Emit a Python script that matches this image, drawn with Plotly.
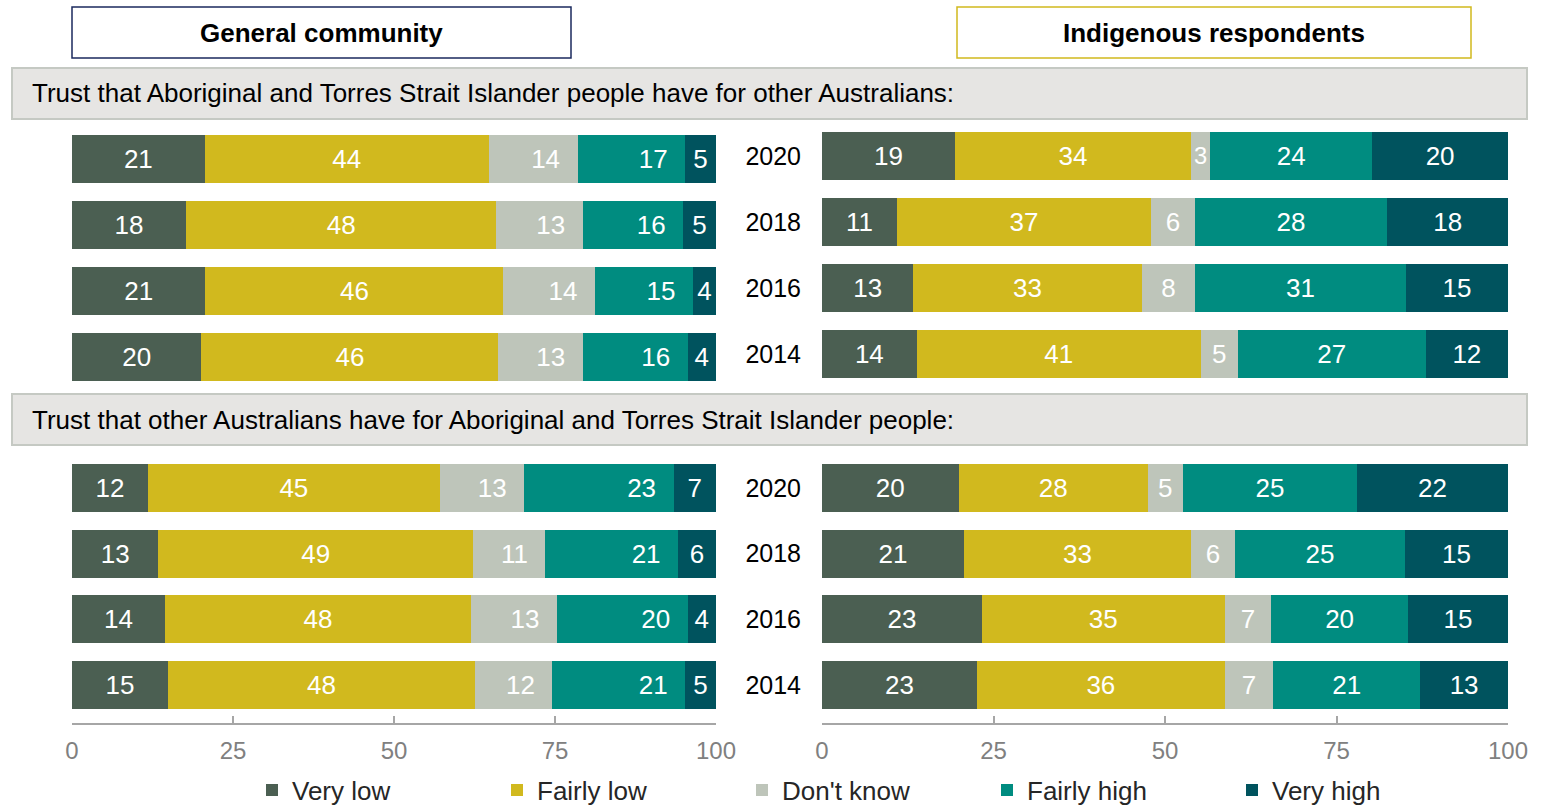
import plotly.graph_objects as go

W, H = 1542, 805

years = ['2020', '2018', '2016', '2014']
categories = ['Very low', 'Fairly low', "Don't know", 'Fairly high', 'Very high']
colors = ['#4B5F52', '#D1B91E', '#BEC5BA', '#008C80', '#00535E']

# values per row (2020, 2018, 2016, 2014), one list per category
gen_others = [
    [20.6, 17.7, 20.7, 20.1],
    [44.1, 48.2, 46.3, 46.1],
    [13.8, 13.4, 14.2, 13.1],
    [16.7, 15.6, 15.2, 16.3],
    [4.8, 5.1, 3.6, 4.4],
]
ind_others = [
    [19.4, 10.9, 13.3, 13.8],
    [34.4, 37.1, 33.3, 41.4],
    [2.8, 6.3, 7.8, 5.4],
    [23.6, 28.1, 30.7, 27.4],
    [19.8, 17.6, 14.9, 12.0],
]
gen_indig = [
    [11.8, 13.4, 14.4, 14.9],
    [45.3, 48.9, 47.6, 47.7],
    [13.1, 11.2, 13.3, 12.0],
    [23.2, 20.6, 20.3, 20.6],
    [6.6, 5.9, 4.4, 4.8],
]
ind_indig = [
    [19.9, 20.7, 23.3, 22.6],
    [27.6, 33.1, 35.4, 36.1],
    [5.1, 6.4, 6.8, 7.1],
    [25.4, 24.8, 19.9, 21.4],
    [22.0, 15.0, 14.6, 12.8],
]

x_ticks = [0, 25, 50, 75, 100]

FONT = 'Arial, Liberation Sans, sans-serif'


def px_x(p):
    return p / W


def px_y(p):
    return 1 - p / H


fig = go.Figure()

panels = [
    (gen_others, 'x', 'y', True, False),
    (ind_others, 'x2', 'y2', False, True),
    (gen_indig, 'x3', 'y3', False, False),
    (ind_indig, 'x4', 'y4', False, True),
]

for data, xa, ya, legend, right in panels:
    for i, cat in enumerate(categories):
        anchor = 'middle'
        tmpl = '%{x:.0f}'
        if not right and i in (2, 3):
            anchor = 'end'
            tmpl = '%{x:.0f}\u00a0\u00a0'
        fig.add_trace(go.Bar(
            y=years, x=data[i], name=cat, orientation='h',
            marker=dict(color=colors[i], line=dict(width=0)),
            xaxis=xa, yaxis=ya,
            texttemplate=tmpl, textposition='inside',
            insidetextanchor=anchor, textangle=0,
            textfont=dict(color='white', size=26, family=FONT),
            legendgroup=cat, showlegend=legend,
        ))

left_dom = [px_x(72), px_x(716)]
right_dom = [px_x(822), px_x(1508)]

xcommon = dict(range=[0, 100], showgrid=False, zeroline=False, fixedrange=True, automargin=False)
xbottom = dict(tickvals=x_ticks, ticks='inside', ticklen=7, tickcolor='#A6A6A6', tickwidth=2,
               showline=True, linecolor='#A6A6A6', linewidth=2,
               tickfont=dict(size=24, color='#808080', family=FONT),
               ticklabelstandoff=5)
ycommon = dict(autorange='reversed', showgrid=False, zeroline=False, automargin=False)
yright = dict(ticklabelstandoff=20, tickfont=dict(size=25, color='black', family=FONT))

fig.update_layout(
    xaxis=dict(domain=left_dom, anchor='y', showticklabels=False, **xcommon),
    xaxis2=dict(domain=right_dom, anchor='y2', showticklabels=False, **xcommon),
    xaxis3=dict(domain=left_dom, anchor='free', position=px_y(724), **xbottom, **xcommon),
    xaxis4=dict(domain=right_dom, anchor='free', position=px_y(724), **xbottom, **xcommon),
    yaxis=dict(domain=[px_y(390), px_y(126)], anchor='x', showticklabels=False, **ycommon),
    yaxis2=dict(domain=[px_y(387), px_y(123)], anchor='x2', **yright, **ycommon),
    yaxis3=dict(domain=[px_y(718), px_y(455)], anchor='x3', showticklabels=False, **ycommon),
    yaxis4=dict(domain=[px_y(718), px_y(455)], anchor='x4', **yright, **ycommon),
)

# panel header boxes
fig.add_shape(type='rect', xref='paper', yref='paper',
              x0=px_x(72), x1=px_x(571), y0=px_y(58), y1=px_y(7),
              line=dict(color='#1B2A5E', width=1.5), fillcolor='white')
fig.add_shape(type='rect', xref='paper', yref='paper',
              x0=px_x(957), x1=px_x(1471), y0=px_y(58), y1=px_y(7),
              line=dict(color='#D1B91E', width=1.5), fillcolor='white')
fig.add_annotation(text='<b>General community</b>', xref='paper', yref='paper',
                   x=px_x(321), y=px_y(33), xanchor='center', yanchor='middle',
                   showarrow=False, font=dict(size=26, color='black', family=FONT))
fig.add_annotation(text='<b>Indigenous respondents</b>', xref='paper', yref='paper',
                   x=px_x(1214), y=px_y(33), xanchor='center', yanchor='middle',
                   showarrow=False, font=dict(size=26, color='black', family=FONT))

# section bands
sections = [
    (68, 119, 'Trust that Aboriginal and Torres Strait Islander people have for other Australians:'),
    (394, 445, 'Trust that other Australians have for Aboriginal and Torres Strait Islander people:'),
]
for top, bot, label in sections:
    fig.add_shape(type='rect', xref='paper', yref='paper',
                  x0=px_x(12), x1=px_x(1527), y0=px_y(bot), y1=px_y(top),
                  line=dict(color='#C5C9C3', width=2), fillcolor='#E6E5E3', layer='below')
    fig.add_annotation(text=label, xref='paper', yref='paper',
                       x=px_x(30), y=px_y((top + bot) / 2), xanchor='left', yanchor='middle',
                       showarrow=False, font=dict(size=26, color='black', family=FONT))

fig.update_layout(
    width=W, height=H,
    margin=dict(l=0, r=0, t=0, b=0, autoexpand=False),
    barmode='stack', bargap=0.27,
    plot_bgcolor='white', paper_bgcolor='white',
    font=dict(family=FONT),
    legend=dict(orientation='h', x=px_x(252), xanchor='left', y=px_y(790), yanchor='middle',
                entrywidth=200, itemwidth=30,
                font=dict(size=26, color='#262626', family=FONT),
                bgcolor='rgba(0,0,0,0)'),
)

fig.write_html("out.html", config={'displayModeBar': False},
               post_script="document.body.style.margin='0';")
